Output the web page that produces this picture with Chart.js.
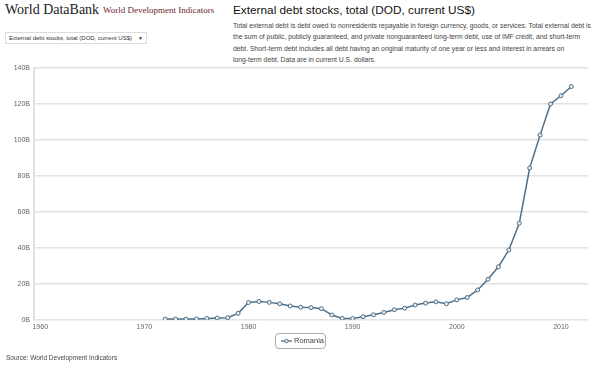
<!DOCTYPE html>
<html>
<head>
<meta charset="utf-8">
<script src="https://cdn.jsdelivr.net/npm/chart.js@4"></script>
<style>
  body { margin: 0; background: #fff; font-family: "Liberation Sans", Arial, sans-serif; }
  #page { position: relative; width: 599px; height: 373px; overflow: hidden; }
  .abs { position: absolute; white-space: nowrap; }
  #brand { left: 5px; top: 2px; font-family: "Liberation Serif", serif; font-size: 14px; color: #222; }
  #wdi { left: 103px; top: 5px; font-family: "Liberation Serif", serif; font-size: 9px; color: #6e1e2a; }
  #select { left: 5px; top: 32px; width: 142px; height: 12px; border: 1px solid #ddd; font-size: 6px; color: #333; line-height: 11px; padding-left: 3px; box-sizing: border-box; }
  #select span { position: absolute; right: 3px; top: 0; font-size: 5px; }
  #title { left: 233px; top: 3px; font-size: 11.8px; color: #111; }
  #desc { left: 233px; top: 20px; font-size: 6.8px; line-height: 11.3px; color: #444; }
  #chartWrap { left: 0; top: 60px; width: 599px; height: 274px; }
  #legend { left: 275px; top: 333px; width: 51px; height: 16px; border: 1px solid #aaa; border-radius: 4px; box-sizing: border-box; font-size: 7.5px; color: #444; line-height: 14px; }
  #legend svg { position: absolute; left: 5px; top: 4px; }
  #legend b { position: absolute; left: 18px; top: 0; font-weight: normal; }
  #source { left: 6px; top: 354px; font-size: 6.5px; color: #444; }
</style>
</head>
<body>
<div id="page">
  <div class="abs" id="brand">World DataBank</div>
  <div class="abs" id="wdi">World Development Indicators</div>
  <div class="abs" id="select">External debt stocks, total (DOD, current US$)<span>&#9660;</span></div>
  <div class="abs" id="title">External debt stocks, total (DOD, current US$)</div>
  <div class="abs" id="desc">Total external debt is debt owed to nonresidents repayable in foreign currency, goods, or services. Total external debt is<br>the sum of public, publicly guaranteed, and private nonguaranteed long-term debt, use of IMF credit, and short-term<br>debt. Short-term debt includes all debt having an original maturity of one year or less and interest in arrears on<br>long-term debt. Data are in current U.S. dollars.</div>
  <div class="abs" id="chartWrap"><canvas id="myChart" width="599" height="274"></canvas></div>
  <div class="abs" id="legend"><svg width="11" height="6"><line x1="0" y1="3" x2="11" y2="3" stroke="#4f6f86" stroke-width="1.3"/><circle cx="5.5" cy="3" r="1.8" fill="#e8edf1" stroke="#4f6f86" stroke-width="1"/></svg><b>Romania</b></div>
  <div class="abs" id="source">Source: World Development Indicators</div>
</div>
<script>
// years and external debt of Romania, in billions of US$
var years = [1972, 1973, 1974, 1975, 1976, 1977, 1978, 1979, 1980, 1981, 1982, 1983, 1984, 1985, 1986, 1987, 1988, 1989, 1990, 1991,
  1992, 1993, 1994, 1995, 1996, 1997, 1998, 1999, 2000, 2001, 2002, 2003, 2004, 2005, 2006, 2007, 2008, 2009, 2010, 2011];
var debt = [0.5, 0.5, 0.5, 0.6, 0.9, 1.1, 1.3, 3.7, 9.7, 10.3, 9.8, 9.0, 7.8, 7.1, 6.9, 6.3, 2.8, 0.9, 0.8, 1.8,
  2.9, 4.2, 5.7, 6.6, 8.3, 9.4, 10.1, 9.0, 11.2, 12.5, 16.7, 22.6, 29.6, 38.9, 53.8, 84.5, 102.8, 120.1, 124.7, 129.8];
var seriesName = "Romania";

// axis ticks
var xTicks = [1960, 1970, 1980, 1990, 2000, 2010];
var yTicks = [0, 20, 40, 60, 80, 100, 120, 140];

var points = [];
for (var i = 0; i < years.length; i++) {
  points.push({ x: years[i], y: debt[i] });
}

var lineColor = "#4f6f86";
var tickFont = { family: "Liberation Sans, Arial, sans-serif", size: 7 };

var ctx = document.getElementById("myChart").getContext("2d");
var myChart = new Chart(ctx, {
  type: "line",
  data: {
    datasets: [{
      label: seriesName,
      data: points,
      borderColor: lineColor,
      borderWidth: 1.5,
      pointRadius: 2,
      pointBorderWidth: 1,
      pointBackgroundColor: "#e8edf1",
      pointBorderColor: lineColor,
      tension: 0
    }]
  },
  options: {
    responsive: false,
    animation: false,
    layout: { padding: { top: 6, right: 11, bottom: 0, left: 0 } },
    plugins: { legend: { display: false }, tooltip: { enabled: false } },
    scales: {
      x: {
        type: "linear",
        min: 1959.4,
        max: 2012.6,
        afterBuildTicks: function (scale) {
          scale.ticks = xTicks.map(function (v) { return { value: v }; });
        },
        afterFit: function (scale) { scale.height = 14; },
        grid: { display: false, drawTicks: false },
        border: { display: false },
        ticks: {
          padding: 3,
          maxRotation: 0,
          color: "#666",
          font: tickFont,
          callback: function (v) { return String(v); }
        }
      },
      y: {
        min: 0,
        max: 140,
        afterBuildTicks: function (scale) {
          scale.ticks = yTicks.map(function (v) { return { value: v }; });
        },
        afterFit: function (scale) { scale.width = 34; },
        grid: { color: "#e2e2e2", lineWidth: 1.5, drawTicks: false },
        border: { color: "#e2e2e2", width: 2 },
        ticks: {
          padding: 4,
          color: "#666",
          font: tickFont,
          callback: function (v) { return v + "B"; }
        }
      }
    }
  }
});
</script>
</body>
</html>
